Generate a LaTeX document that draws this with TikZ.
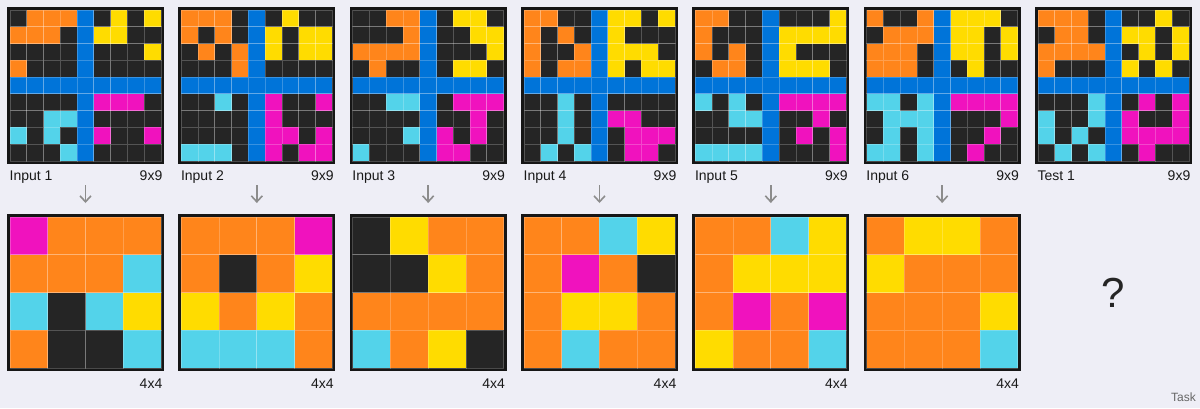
\documentclass[tikz,border=0pt]{standalone}
\usepackage{fontspec}
\setmainfont{Liberation Sans}
\usetikzlibrary{positioning, arrows.meta, calc}
\definecolor{arcbg}{RGB}{238,238,246}
\definecolor{arck}{RGB}{37,37,37}
\definecolor{arco}{RGB}{255,133,27}
\definecolor{arcy}{RGB}{255,220,0}
\definecolor{arcb}{RGB}{0,116,217}
\definecolor{arcm}{RGB}{240,18,190}
\definecolor{arcc}{RGB}{83,211,234}
\definecolor{arcframe}{RGB}{22,22,22}
\definecolor{arcarrow}{RGB}{140,140,140}
\tikzset{
  gridbox/.style  = {draw=arcframe, line width=3pt, minimum width=154pt,
                     minimum height=154pt, inner sep=0pt, outer sep=0pt},
  cellbox/.style  = {draw=white, draw opacity=0.22, line width=0.8pt},
  gridlbl/.style  = {font=\fontsize{14}{16}\selectfont, inner sep=0pt, text=black!90},
  flowarr/.style  = {-{Straight Barb[length=6pt,width=11pt]}, line width=1.6pt, arcarrow},
  qmark/.style    = {font=\fontsize{42}{46}\selectfont, text=arck},
  tasklbl/.style  = {font=\fontsize{12}{14}\selectfont, text=black!60, inner sep=0pt},
}
% fill a grid box with its cells: box name, cells per side, rows
\newcommand\fillcells[3]{%
  \begin{scope}[shift={(#1.north west)}]
    \pgfmathsetmacro\cellw{151/#2}
    \foreach \row [count=\ri from 0] in {#3} {
      \foreach \clr [count=\ci from 0] in \row {
        \draw[cellbox, fill=arc\clr] ({1.5+\ci*\cellw},{1.5+\ri*\cellw}) rectangle +(\cellw,\cellw);
      }
    }
  \end{scope}}

\begin{document}
\begin{tikzpicture}[x=1pt, y=-1pt]
    \useasboundingbox[fill=arcbg] (0,0) rectangle (1200,408);
    % input row
    \node[gridbox] (in1) at (85.5,85.5) {};
    \node[gridbox, right=17.33pt of in1] (in2) {};
    \node[gridbox, right=17.33pt of in2] (in3) {};
    \node[gridbox, right=17.33pt of in3] (in4) {};
    \node[gridbox, right=17.33pt of in4] (in5) {};
    \node[gridbox, right=17.33pt of in5] (in6) {};
    \node[gridbox, right=17.33pt of in6] (test) {};
    % output row
    \node[gridbox, below=53pt of in1] (out1) {};
    \node[gridbox, below=53pt of in2] (out2) {};
    \node[gridbox, below=53pt of in3] (out3) {};
    \node[gridbox, below=53pt of in4] (out4) {};
    \node[gridbox, below=53pt of in5] (out5) {};
    \node[gridbox, below=53pt of in6] (out6) {};

    \fillcells{in1}{9}{{k,o,o,o,b,k,y,k,y},{o,o,o,k,b,y,y,k,k},{k,k,k,k,b,k,k,k,y},
      {o,k,k,k,b,k,k,k,k},{b,b,b,b,b,b,b,b,b},{k,k,k,k,b,m,m,m,k},
      {k,k,c,c,b,k,k,k,k},{c,k,c,k,b,m,k,k,m},{k,k,k,c,b,k,k,k,k}}
    \fillcells{in2}{9}{{o,o,o,k,b,k,y,k,k},{o,k,o,k,b,y,k,y,y},{k,o,k,o,b,y,k,y,y},
      {k,k,k,o,b,k,k,k,k},{b,b,b,b,b,b,b,b,b},{k,k,c,k,b,m,k,k,m},
      {k,k,k,k,b,m,k,k,k},{k,k,k,k,b,m,m,k,m},{c,c,c,k,b,m,k,m,m}}
    \fillcells{in3}{9}{{k,k,o,o,b,k,y,y,k},{k,k,k,o,b,k,k,y,y},{o,o,o,o,b,k,k,k,y},
      {k,o,k,k,b,k,y,y,k},{b,b,b,b,b,b,b,b,b},{k,k,c,c,b,k,m,m,m},
      {k,k,k,k,b,k,k,m,k},{k,k,k,c,b,m,k,m,k},{c,k,k,k,b,m,m,k,k}}
    \fillcells{in4}{9}{{o,o,k,k,b,y,y,k,y},{o,k,o,k,b,y,k,k,k},{o,k,k,o,b,y,y,y,k},
      {o,k,o,o,b,y,k,y,y},{b,b,b,b,b,b,b,b,b},{k,k,c,k,b,k,k,k,k},
      {k,k,c,k,b,m,m,k,k},{k,k,c,k,b,k,m,m,m},{k,c,k,c,b,k,m,m,k}}
    \fillcells{in5}{9}{{o,o,k,k,b,k,k,k,y},{o,k,k,k,b,y,y,y,y},{o,k,o,k,b,y,k,k,k},
      {k,o,o,k,b,y,y,y,k},{b,b,b,b,b,b,b,b,b},{c,k,c,k,b,m,m,m,m},
      {k,k,c,c,b,k,k,m,k},{k,k,k,k,b,k,m,k,m},{c,c,c,c,b,k,k,k,m}}
    \fillcells{in6}{9}{{o,k,k,o,b,y,y,y,k},{k,o,o,o,b,y,y,k,y},{o,o,o,k,b,y,y,k,y},
      {o,o,o,k,b,k,y,k,k},{b,b,b,b,b,b,b,b,b},{c,c,k,c,b,m,m,m,m},
      {k,c,c,c,b,k,k,k,m},{k,c,k,c,b,k,k,m,k},{c,c,k,c,b,k,m,k,k}}
    \fillcells{test}{9}{{o,o,o,k,b,k,k,y,k},{k,o,o,k,b,y,y,k,y},{o,o,o,o,b,k,y,k,y},
      {o,k,k,k,b,y,k,y,k},{b,b,b,b,b,b,b,b,b},{k,k,k,c,b,k,m,k,m},
      {c,k,k,c,b,m,k,k,m},{c,k,c,k,b,m,m,m,m},{k,c,k,c,b,k,m,k,k}}

    \fillcells{out1}{4}{{m,o,o,o},{o,o,o,c},{c,k,c,y},{o,k,k,c}}
    \fillcells{out2}{4}{{o,o,o,m},{o,k,o,y},{y,o,y,o},{c,c,c,o}}
    \fillcells{out3}{4}{{k,y,o,o},{k,k,y,o},{o,o,o,o},{c,o,y,k}}
    \fillcells{out4}{4}{{o,o,c,y},{o,m,o,k},{o,y,y,o},{o,c,o,o}}
    \fillcells{out5}{4}{{o,o,c,y},{o,y,y,y},{o,m,o,m},{y,o,o,c}}
    \fillcells{out6}{4}{{o,y,y,o},{y,o,o,o},{o,o,o,y},{o,o,o,c}}

    % labels and arrows
    \foreach \k in {1,...,6} {
      \node[gridlbl, anchor=base west] (inlbl\k) at ([xshift=1pt, yshift=-17.5pt]in\k.south west) {Input \k};
      \node[gridlbl, anchor=base east] (indim\k) at ([yshift=-17.5pt]in\k.south east) {9x9};
      \node[gridlbl, anchor=base east] (outdim\k) at ([yshift=-18.5pt]out\k.south east) {4x4};
      \draw[flowarr] ([yshift=-22.5pt]in\k.south) -- ([yshift=12.5pt]out\k.north);
    }
    \node[gridlbl, anchor=base west] (testlbl) at ([xshift=1pt, yshift=-17.5pt]test.south west) {Test 1};
    \node[gridlbl, anchor=base east] (testdim) at ([yshift=-17.5pt]test.south east) {9x9};
    \node[qmark] (qm) at (test |- out6) {?};
    \node[tasklbl, anchor=base east] (task) at (1196,401) {Task};
\end{tikzpicture}
\end{document}
